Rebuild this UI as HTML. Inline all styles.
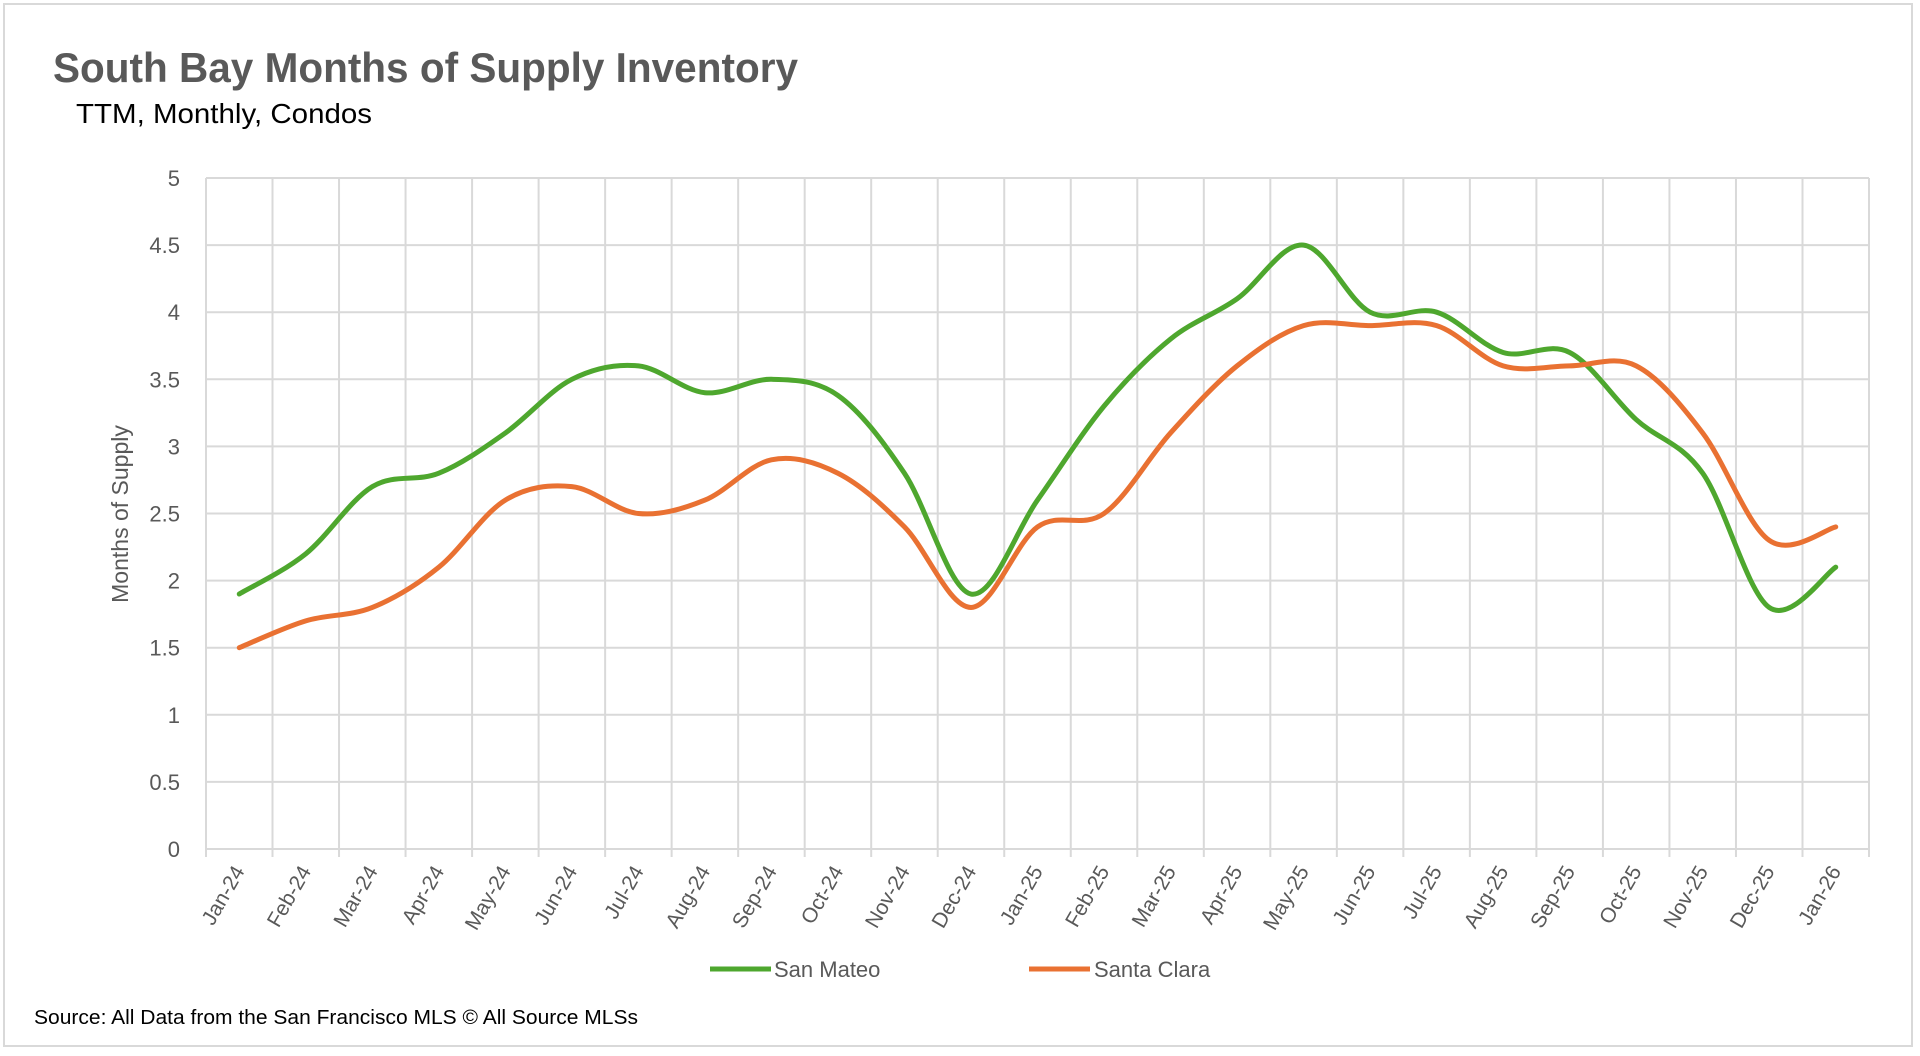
<!DOCTYPE html>
<html><head><meta charset="utf-8">
<style>
html,body{margin:0;padding:0;background:#fff;}
body{width:1920px;height:1056px;overflow:hidden;position:relative;font-family:"Liberation Sans",sans-serif;}
#frame{position:absolute;left:3px;top:3px;width:1910px;height:1044px;border:2px solid #d9d9d9;box-sizing:border-box;}
svg{position:absolute;left:0;top:0;}
</style></head>
<body>
<div id="frame"></div>
<svg id="chart" width="1920" height="1056">
<text x="53" y="82" font-family="'Liberation Sans Narrow','Liberation Sans',sans-serif" font-weight="bold" font-size="42" fill="#595959" textLength="745" lengthAdjust="spacingAndGlyphs">South Bay Months of Supply Inventory</text>
<text x="76" y="123" font-size="28" fill="#000" textLength="296" lengthAdjust="spacingAndGlyphs">TTM, Monthly, Condos</text>
<text transform="translate(128,514) rotate(-90)" text-anchor="middle" font-size="23" fill="#595959">Months of Supply</text>
<g id="grid"></g><g id="yticks"></g><g id="xticks"></g><g id="series"></g>
<g>
<line x1="710" y1="969" x2="771" y2="969" stroke="#4ea72e" stroke-width="5"/>
<text x="774" y="977" font-size="22" fill="#595959">San Mateo</text>
<line x1="1029" y1="969" x2="1090" y2="969" stroke="#e97132" stroke-width="5"/>
<text x="1094" y="977" font-size="22" fill="#595959">Santa Clara</text>
</g>
<text x="34" y="1024" font-size="20" fill="#000" textLength="604" lengthAdjust="spacingAndGlyphs">Source: All Data from the San Francisco MLS © All Source MLSs</text>
</svg>
<script>
const categories=["Jan-24","Feb-24","Mar-24","Apr-24","May-24","Jun-24","Jul-24","Aug-24","Sep-24","Oct-24","Nov-24","Dec-24","Jan-25","Feb-25","Mar-25","Apr-25","May-25","Jun-25","Jul-25","Aug-25","Sep-25","Oct-25","Nov-25","Dec-25","Jan-26"];
const sanMateo=[1.9,2.2,2.7,2.8,3.1,3.5,3.6,3.4,3.5,3.38,2.8,1.9,2.6,3.3,3.8,4.1,4.5,4.0,4.0,3.7,3.7,3.2,2.8,1.8,2.1];
const santaClara=[1.5,1.7,1.8,2.1,2.6,2.7,2.5,2.6,2.9,2.8,2.4,1.8,2.4,2.5,3.1,3.6,3.9,3.9,3.9,3.6,3.6,3.6,3.1,2.3,2.4];
const yTicks=[0,0.5,1,1.5,2,2.5,3,3.5,4,4.5,5];
const X0=206,X1=1869,Y0=849,Y1=178,YMAX=5;
const NS="http://www.w3.org/2000/svg";
const band=(X1-X0)/categories.length;
function xs(i){return X0+band*(i+0.5);}
function ys(v){return Y0-(v/YMAX)*(Y0-Y1);}
function mk(tag,attrs,parent){const e=document.createElementNS(NS,tag);for(const k in attrs)e.setAttribute(k,attrs[k]);parent.appendChild(e);return e;}
const grid=document.getElementById('grid'),yt=document.getElementById('yticks'),xt=document.getElementById('xticks'),ser=document.getElementById('series');
yTicks.forEach(v=>{
 const l=mk('line',{x1:X0,x2:X1,y1:ys(v),y2:ys(v),stroke:'#d9d9d9','stroke-width':2},grid);
 
 
 const t=mk('text',{x:180,y:ys(v)+8,'text-anchor':'end','font-size':22,fill:'#595959'},yt);
 t.textContent=String(v);
 
 
});
for(let i=0;i<=categories.length;i++){
 const x=X0+band*i;
 const l=mk('line',{x1:x,x2:x,y1:Y1,y2:Y0+8,stroke:'#d9d9d9','stroke-width':2},grid);
 
 
}
categories.forEach((c,i)=>{
 const x=xs(i)+6,y=Y0+22;
 const t=mk('text',{x:x,y:y,'text-anchor':'end','font-size':21,fill:'#595959',transform:`rotate(-60 ${x} ${y})`},xt);
 t.textContent=c;
 
 
});
function path(vals){
 const p=vals.map((v,i)=>[xs(i),ys(v)]);
 let d=`M${p[0][0]},${p[0][1]}`;
 for(let i=0;i<p.length-1;i++){
  const a=p[i-1]||p[i],b=p[i],c=p[i+1],e=p[i+2]||c;
  const c1=[b[0]+(c[0]-a[0])/6,b[1]+(c[1]-a[1])/6];
  const c2=[c[0]-(e[0]-b[0])/6,c[1]-(e[1]-b[1])/6];
  d+=` C${c1[0]},${c1[1]} ${c2[0]},${c2[1]} ${c[0]},${c[1]}`;
 }
 return d;
}
const s1=mk('path',{d:path(sanMateo),fill:'none',stroke:'#4ea72e','stroke-width':5,'stroke-linecap':'round','stroke-linejoin':'round'},ser);


const s2=mk('path',{d:path(santaClara),fill:'none',stroke:'#e97132','stroke-width':5,'stroke-linecap':'round','stroke-linejoin':'round'},ser);


</script>
</body></html>
